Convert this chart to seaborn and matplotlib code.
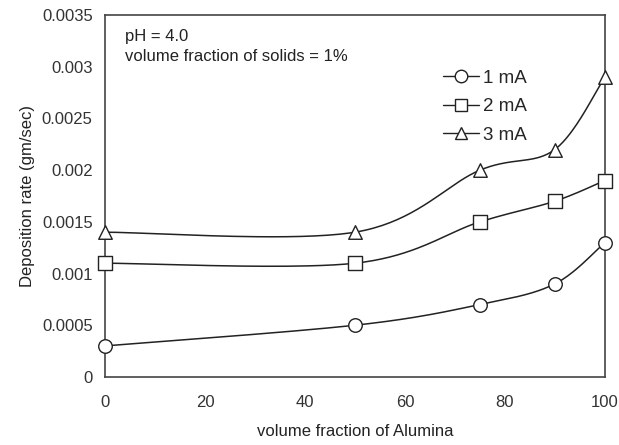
import numpy as np
import pandas as pd
import matplotlib
matplotlib.use("Agg")
import matplotlib.pyplot as plt
import seaborn as sns
from matplotlib.lines import Line2D

# Deposition rate vs. alumina fraction for three currents
alumina = [0, 50, 75, 90, 100]
rate_1mA = [0.0003, 0.0005, 0.0007, 0.0009, 0.0013]
rate_2mA = [0.0011, 0.0011, 0.0015, 0.0017, 0.0019]
rate_3mA = [0.0014, 0.0014, 0.0020, 0.0022, 0.0029]
series_names = ["1 mA", "2 mA", "3 mA"]
series_markers = ["o", "s", "^"]

sns.set_theme(style="white")
plt.rcParams["font.family"] = ["Liberation Sans", "DejaVu Sans"]

INK = "#222222"


def smooth_curve(x, y, n=40):
    """Cubic Bezier smoothing through the points (spreadsheet-style)."""
    x = np.asarray(x, float)
    y = np.asarray(y, float)
    xs, ys = [], []
    for i in range(len(x) - 1):
        p0 = np.array([x[max(i - 1, 0)], y[max(i - 1, 0)]])
        p1 = np.array([x[i], y[i]])
        p2 = np.array([x[i + 1], y[i + 1]])
        p3 = np.array([x[min(i + 2, len(x) - 1)], y[min(i + 2, len(x) - 1)]])
        c1 = p1 + (p2 - p0) / 6.0
        c2 = p2 - (p3 - p1) / 6.0
        t = np.linspace(0, 1, n)[:, None]
        pts = ((1 - t) ** 3) * p1 + 3 * ((1 - t) ** 2) * t * c1 + 3 * (1 - t) * t ** 2 * c2 + t ** 3 * p2
        xs.extend(pts[:, 0])
        ys.extend(pts[:, 1])
    return np.array(xs), np.array(ys)


fig = plt.figure(figsize=(6.19, 4.45), dpi=100)
ax = fig.add_axes([0.170, 0.153, 0.807, 0.813])

for name, mk, vals in zip(series_names, series_markers, [rate_1mA, rate_2mA, rate_3mA]):
    sx, sy = smooth_curve(alumina, vals)
    curve = pd.DataFrame({"x": sx, "y": sy})
    sns.lineplot(data=curve, x="x", y="y", ax=ax, color=INK, lw=1.1,
                 sort=False, estimator=None, zorder=2)
    pts = pd.DataFrame({"x": alumina, "y": vals})
    sns.scatterplot(data=pts, x="x", y="y", ax=ax, marker=mk, s=95,
                    facecolor="white", edgecolor=INK, linewidth=1.0,
                    zorder=3, clip_on=False)

ax.set_xlim(0, 100)
ax.set_ylim(0, 0.0035)
ax.set_xticks([0, 20, 40, 60, 80, 100])
ax.set_yticks([0, 0.0005, 0.001, 0.0015, 0.002, 0.0025, 0.003, 0.0035])
ax.set_yticklabels(["0", "0.0005", "0.001", "0.0015", "0.002", "0.0025", "0.003", "0.0035"])
ax.tick_params(axis="both", direction="out", length=3, width=0.8, colors="#333333",
               labelsize=12, pad=6)
ax.tick_params(axis="x", pad=10)
for sp in ax.spines.values():
    sp.set_color("#444444")
    sp.set_linewidth(1.2)

ax.set_xlabel("volume fraction of Alumina", fontsize=12, color=INK, labelpad=10)
ax.set_ylabel("Deposition rate (gm/sec)", fontsize=12, color=INK, labelpad=5)

ax.text(0.04, 0.962, "pH = 4.0", transform=ax.transAxes, fontsize=12,
        color=INK, va="top")
ax.text(0.04, 0.905, "volume fraction of solids = 1%", transform=ax.transAxes,
        fontsize=12, color=INK, va="top")

handles = [Line2D([0], [0], color=INK, lw=1.0, marker=mk, markersize=9,
                  markerfacecolor="white", markeredgecolor=INK)
           for mk in series_markers]
ax.legend(handles, series_names, loc="upper left", bbox_to_anchor=(0.65, 0.885),
          frameon=False, fontsize=13.5, handlelength=1.9, handletextpad=0.25,
          labelspacing=0.6, borderpad=0.2)

fig.savefig("out.png", dpi=100, facecolor="white")
